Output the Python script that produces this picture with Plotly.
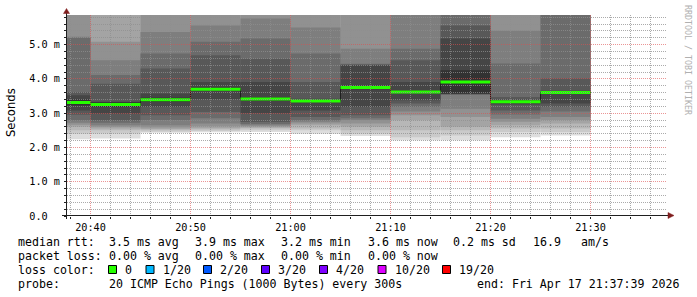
import plotly.graph_objects as go
import pandas as pd

# ---------------- data ----------------
# end time of each 5-minute SmokePing step (value covers the preceding 300 s)
seg_end = ["2026-04-17 20:40", "2026-04-17 20:45", "2026-04-17 20:50", "2026-04-17 20:55",
           "2026-04-17 21:00", "2026-04-17 21:05", "2026-04-17 21:10", "2026-04-17 21:15",
           "2026-04-17 21:20", "2026-04-17 21:25", "2026-04-17 21:30"]
step_seconds = 300

# median RTT per step (ms)
median_ms = [3.31, 3.25, 3.39, 3.70, 3.41, 3.355, 3.745, 3.62, 3.91, 3.335, 3.605]

# 20 sorted ping RTTs per step (ms)
p_2040 = [2.24, 2.40, 2.50, 2.60, 2.66, 2.72, 2.79, 2.95, 3.08, 3.22,
          3.40, 3.52, 3.62, 5.20, 5.23, 6.3, 7.1, 8.4, 10.6, 14.9]
p_2045 = [2.26, 2.41, 2.50, 2.55, 2.60, 2.65, 2.72, 2.79, 2.99, 3.18,
          3.32, 3.33, 3.86, 4.11, 4.54, 5.08, 6.1, 6.9, 8.3, 11.2]
p_2050 = [2.43, 2.46, 2.50, 2.54, 2.58, 2.65, 2.80, 2.94, 3.18, 3.33,
          3.45, 3.57, 4.30, 4.74, 5.37, 6.2, 6.8, 7.7, 9.4, 13.1]
p_2055 = [2.44, 2.48, 2.52, 2.56, 2.62, 2.70, 2.85, 3.03, 3.40, 3.65,
          3.75, 3.91, 4.69, 5.08, 5.56, 6.4, 7.2, 8.0, 9.9, 12.5]
p_2100 = [2.45, 2.50, 2.55, 2.58, 2.62, 2.65, 2.68, 2.74, 3.00, 3.36,
          3.46, 3.91, 4.59, 5.175, 5.76, 6.3, 7.0, 8.2, 10.1, 13.6]
p_2105 = [2.40, 2.50, 2.55, 2.65, 2.70, 2.75, 2.79, 2.89, 3.08, 3.32,
          3.39, 3.42, 3.91, 4.74, 5.50, 6.2, 6.9, 7.8, 9.7, 12.9]
p_2110 = [2.33, 2.40, 2.50, 2.60, 2.70, 2.80, 2.85, 2.94, 3.18, 3.70,
          3.80, 4.40, 4.42, 4.44, 4.88, 6.1, 6.7, 7.6, 9.2, 12.0]
p_2115 = [2.21, 2.30, 2.50, 2.79, 2.94, 3.05, 3.18, 3.28, 3.375, 3.60,
          3.66, 3.91, 4.54, 4.88, 6.0, 6.5, 7.3, 8.5, 10.4, 13.8]
p_2120 = [2.21, 2.35, 2.50, 2.60, 2.89, 3.13, 3.54, 3.55, 3.56, 3.57,
          4.25, 5.18, 5.56, 6.0, 6.4, 6.9, 7.5, 8.6, 10.3, 14.2]
p_2125 = [2.30, 2.45, 2.55, 2.65, 2.75, 2.84, 2.96, 3.08, 3.25, 3.31,
          3.36, 3.40, 3.47, 4.445, 5.40, 6.2, 6.8, 7.9, 9.6, 12.7]
p_2130 = [2.35, 2.45, 2.55, 2.70, 2.80, 2.89, 3.05, 3.18, 3.28, 3.58,
          3.63, 3.65, 4.01, 6.0, 6.3, 6.9, 7.4, 8.3, 10.1, 13.3]
pings = [p_2040, p_2045, p_2050, p_2055, p_2100, p_2105, p_2110, p_2115, p_2120, p_2125, p_2130]

y_tickvals = [0, 1, 2, 3, 4, 5]
y_ticktext = ["0.0\u00a0\u00a0", "1.0\u00a0m", "2.0\u00a0m", "3.0\u00a0m", "4.0\u00a0m", "5.0\u00a0m"]
x_tickvals = ["2026-04-17 20:40", "2026-04-17 20:50", "2026-04-17 21:00",
              "2026-04-17 21:10", "2026-04-17 21:20", "2026-04-17 21:30"]
x_ticktext = ["20:40", "20:50", "21:00", "21:10", "21:20", "21:30"]

loss_labels = ["0", "1/20", "2/20", "3/20", "4/20", "10/20", "19/20"]
loss_colors = ["#26ff00", "#00b8ff", "#0059ff", "#5e00ff", "#7e00ff", "#dd00ff", "#ff0000"]

legend_rows = [
    [("median rtt:", 16), ("3.5 ms avg", 107.3), ("3.9 ms max", 193.3), ("3.2 ms min", 279.3),
     ("3.6 ms now", 366), ("0.2 ms sd", 451), ("16.9", 530.7), ("am/s", 579.3)],
    [("packet loss:", 16), ("0.00 % avg", 107.3), ("0.00 % max", 193.3), ("0.00 % min", 279.3),
     ("0.00 % now", 366)],
    [("loss color:", 16)],
    [("probe:", 16), ("20 ICMP Echo Pings (1000 Bytes) every 300s", 107.3)],
]
end_text = "end: Fri Apr 17 21:37:39 2026"

# ---------------- layout geometry ----------------
W, H = 697, 297
ML, MR, MT, MB = 67, 30, 15, 81
PW, PH = W - ML - MR, H - MT - MB
Y_TOP = 5.863
X0 = pd.Timestamp("2026-04-17 21:37:39") - pd.Timedelta(hours=1)
X1 = pd.Timestamp("2026-04-17 21:37:39")


def pxx(x):
    return (x - ML) / PW


def pxy(y):
    return (MT + PH - y) / PH


MONO = "DejaVu Sans Mono"

ends = [pd.Timestamp(e) for e in seg_end]
starts = [e - pd.Timedelta(seconds=step_seconds) for e in ends]
centers = [s + pd.Timedelta(seconds=step_seconds / 2) for s in starts]

fig = go.Figure()

# smoke: SmokePing style stacked bands
n = 20
half = n // 2
for ib in range(1, half + 1):
    ie = n + 1 - ib
    g = int(190 / half * (half - ib)) + 50
    col = "#%02x%02x%02x" % (g, g, g)
    lo = [p[ib - 1] for p in pings]
    hi = [p[ie - 1] for p in pings]
    fig.add_trace(go.Bar(
        x=centers, y=[h - l for h, l in zip(hi, lo)], base=lo,
        width=step_seconds * 1000, marker=dict(color=col, line=dict(width=0)),
        hoverinfo="skip", showlegend=False))

# median: dark step line + green segments
fig.add_trace(go.Scatter(
    x=starts + [ends[-1]], y=median_ms + [median_ms[-1]], mode="lines",
    line=dict(color="#202020", width=1, shape="hv"), hoverinfo="skip", showlegend=False))
gx, gy = [], []
for s, e, m in zip(starts, ends, median_ms):
    gx += [s, e, None]
    gy += [m, m, None]
fig.add_trace(go.Scatter(x=gx, y=gy, mode="lines", line=dict(color=loss_colors[0], width=3),
                         hoverinfo="skip", showlegend=False))

shapes = []
# grid (drawn above data, as rrdtool does)
GRID = "rgba(143,143,143,0.75)"
MGRID = "rgba(222,79,79,0.6)"
t = pd.Timestamp("2026-04-17 20:38")
while t < X1:
    major = (t.minute % 10 == 0)
    shapes.append(dict(type="line", xref="x", yref="paper", x0=t, x1=t, y0=0, y1=1,
                       line=dict(color=MGRID if major else GRID, width=1, dash="1px,1px"),
                       layer="above"))
    t += pd.Timedelta(minutes=2)
for k in range(1, 30):
    v = k * 0.2
    major = (k % 5 == 0)
    ypix = MT + PH - v * PH / Y_TOP
    ypix = int(ypix) + 0.5
    vv = (MT + PH - ypix) * Y_TOP / PH
    shapes.append(dict(type="line", xref="paper", yref="y", x0=0, x1=1, y0=vv, y1=vv,
                       line=dict(color=MGRID if major else GRID, width=1, dash="1px,1px"),
                       layer="above"))

AXIS = "#1f1f1f"
ARROW = "#801f1f"
# axes lines
shapes.append(dict(type="line", xref="paper", yref="paper", x0=pxx(62), x1=pxx(669),
                   y0=pxy(215.5), y1=pxy(215.5), line=dict(color=AXIS, width=1), layer="above"))
shapes.append(dict(type="line", xref="paper", yref="paper", x0=pxx(66.5), x1=pxx(66.5),
                   y0=pxy(219), y1=pxy(12), line=dict(color=AXIS, width=1), layer="above"))
# arrows
shapes.append(dict(type="path", xref="paper", yref="paper",
                   path="M %f %f L %f %f L %f %f Z" % (pxx(63.5), pxy(13.5), pxx(69.5), pxy(13.5),
                                                     pxx(66.5), pxy(8.5)),
                   fillcolor=ARROW, line=dict(color=ARROW, width=0.5), layer="above"))
shapes.append(dict(type="path", xref="paper", yref="paper",
                   path="M %f %f L %f %f L %f %f Z" % (pxx(668), pxy(212.5), pxx(668), pxy(218.5),
                                                     pxx(674), pxy(215.5)),
                   fillcolor=ARROW, line=dict(color=ARROW, width=0.5), layer="above"))

annotations = []
row_y = [241.5, 255.5, 269.5, 283.5]
for r, items in enumerate(legend_rows):
    for txt, x in items:
        annotations.append(dict(text=txt.replace(" ", "\u00a0"), x=pxx(x), y=pxy(row_y[r]),
                                xref="paper", yref="paper", xanchor="left", yanchor="middle",
                                showarrow=False, font=dict(family=MONO, size=11.6, color="black")))
annotations.append(dict(text=end_text.replace(" ", "\u00a0"), x=pxx(681), y=pxy(row_y[3]),
                        xref="paper", yref="paper", xanchor="right", yanchor="middle",
                        showarrow=False, font=dict(family=MONO, size=11.6, color="black")))
box_x = [108.5, 146, 203.5, 261.5, 319.5, 378, 442.5]
for lab, col, bx in zip(loss_labels, loss_colors, box_x):
    shapes.append(dict(type="rect", xref="paper", yref="paper", x0=pxx(bx), x1=pxx(bx + 8),
                       y0=pxy(265.5), y1=pxy(273.5), fillcolor=col,
                       line=dict(color="black", width=1)))
    annotations.append(dict(text=lab, x=pxx(bx + 14.8), y=pxy(row_y[2]), xref="paper", yref="paper",
                            xanchor="left", yanchor="middle", showarrow=False,
                            font=dict(family=MONO, size=11.6, color="black")))

annotations.append(dict(text="Seconds", x=pxx(11), y=pxy(113), xref="paper", yref="paper",
                        xanchor="center", yanchor="middle", textangle=-90, showarrow=False,
                        font=dict(family="DejaVu Sans", size=11.6, color="black")))
annotations.append(dict(text="RRDTOOL\u00a0/\u00a0TOBI\u00a0OETIKER", x=pxx(688), y=pxy(60),
                        xref="paper", yref="paper", xanchor="center", yanchor="middle",
                        textangle=90, showarrow=False,
                        font=dict(family=MONO, size=8.3, color="#b0b0b0")))

minor_x = [X0.ceil("2min") + pd.Timedelta(minutes=2 * i) for i in range(30)]
minor_x = [t for t in minor_x if t <= X1]
minor_y = [round(k * 0.2, 1) for k in range(1, 30)]

fig.update_layout(
    width=W, height=H, margin=dict(l=ML, r=MR, t=MT, b=MB, pad=0),
    paper_bgcolor="white", plot_bgcolor="white", barmode="overlay",
    showlegend=False, shapes=shapes, annotations=annotations,
    xaxis=dict(type="date", range=[X0, X1], tickmode="array", tickvals=x_tickvals,
               ticktext=x_ticktext, showgrid=False, zeroline=False, showline=False,
               ticks="outside", ticklen=2, tickcolor=AXIS, ticklabelstandoff=0,
               tickfont=dict(family=MONO, size=10.2, color="black"),
               minor=dict(tickmode="array", tickvals=minor_x, ticks="outside", ticklen=2,
                          tickcolor=AXIS, showgrid=False)),
    yaxis=dict(range=[0, Y_TOP], tickmode="array", tickvals=y_tickvals, ticktext=y_ticktext,
               showgrid=False, zeroline=False, showline=False,
               ticks="outside", ticklen=2, tickcolor=AXIS, ticklabelstandoff=2,
               tickfont=dict(family=MONO, size=10.2, color="black"),
               minor=dict(tickmode="array", tickvals=minor_y, ticks="outside", ticklen=2,
                          tickcolor=AXIS, showgrid=False)),
)

fig.write_html("out.html")
